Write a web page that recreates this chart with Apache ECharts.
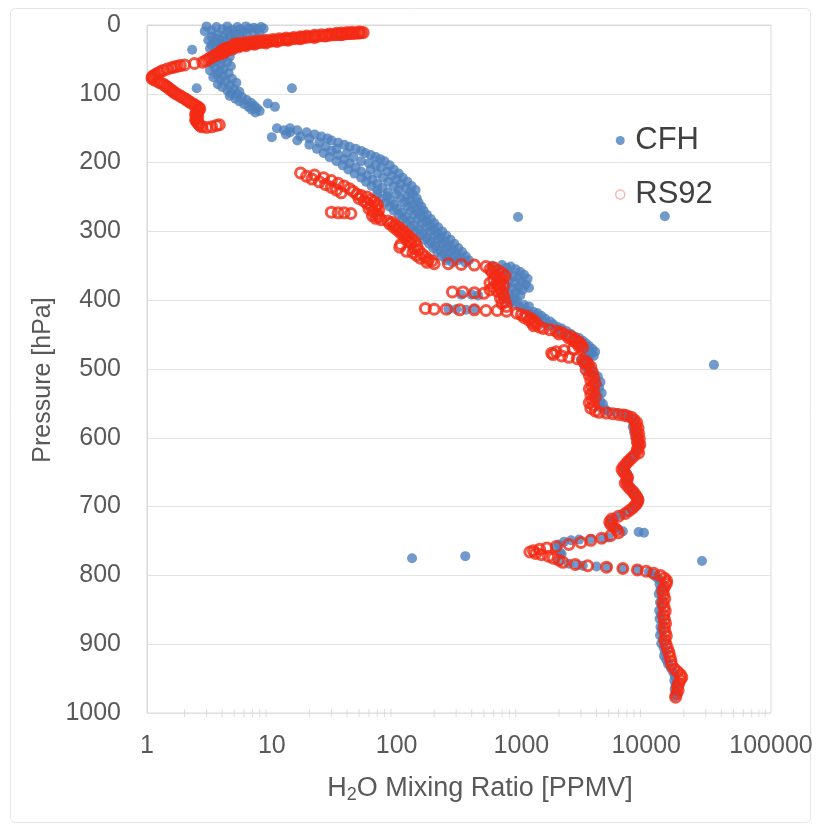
<!DOCTYPE html>
<html>
<head>
<meta charset="utf-8">
<title>CFH vs RS92 water vapour profile</title>
<script src="https://cdn.jsdelivr.net/npm/echarts@6/dist/echarts.min.js"></script>
<style>
  html, body { margin: 0; padding: 0; background: #ffffff; }
  #chart { width: 821px; height: 829px; }
</style>
</head>
<body>
<div id="chart"></div>
<script>
// Axis ticks
const pressureTicks = [0, 100, 200, 300, 400, 500, 600, 700, 800, 900, 1000];
const mixingTicks = [1, 10, 100, 1000, 10000, 100000];
// Minor tick positions along the log axis (2..9 of each decade)
const minorTickValues = [
  2, 3, 4, 5, 6, 7, 8, 9,
  20, 30, 40, 50, 60, 70, 80, 90,
  200, 300, 400, 500, 600, 700, 800, 900,
  2000, 3000, 4000, 5000, 6000, 7000, 8000, 9000,
  20000, 30000, 40000, 50000, 60000, 70000, 80000, 90000
];

const seriesNames = ['CFH', 'RS92'];

// CFH frost-point hygrometer: [pressure hPa, H2O mixing ratio ppmv]
const cfhPoints = [
  [2,3.0],[3,3.6],[2,4.4],[3,5.3],[2,6.2],[4,7.2],[3,8.2],[5,8.6],[6,7.6],[5,6.6],[6,5.6],[7,4.8],[6,4.0],[8,3.3],[9,2.9],
  [9,4.4],[10,5.9],[11,7.1],[12,8.0],[13,6.3],[12,5.0],[14,3.7],[15,4.6],[16,5.5],[17,3.3],[18,4.1],[19,5.2],[20,3.6],
  [21,4.5],[22,3.1],[23,4.0],[24,5.0],[25,3.5],[26,4.3],[27,3.8],[28,4.7],[29,3.3],[30,4.1],[31,3.6],[33,4.4],[34,3.2],
  [36,2.3],[36,3.9],[38,4.8],[40,3.5],[42,4.2],[44,3.7],[46,4.6],[48,3.4],[50,4.0],[52,3.6],[54,4.4],[56,3.3],[58,3.9],
  [60,4.7],[62,3.5],[64,4.1],[66,3.2],[68,3.8],[70,4.5],[72,3.6],[74,4.1],[76,3.4],[78,4.8],[80,3.9],[82,4.3],[84,5.2],
  [86,3.7],[88,4.6],[90,4.0],[92,2.5],[92,14.5],[93,5.0],[95,4.4],[97,5.5],[99,4.7],[101,5.3],[103,4.6],[105,5.8],
  [107,5.1],[109,6.3],[111,5.5],[113,6.8],[114,9.3],[115,6.0],[117,7.2],[119,6.5],[119,10.6],[121,7.6],[123,6.9],
  [125,8.0],[127,7.4],
  [150,11],[150,14],[153,16],[153,12.5],[156,19],[156,14],[159,13],[159,22],[162,17],[162,25],[163,10],[165,20],[165,28],
  [168,16],[168,30],[171,24],[171,34],[174,20],[174,38],[177,27],[177,42],[180,23],[180,33],[180,47],[183,30],[183,52],
  [186,26],[186,40],[186,56],[189,34],[189,62],[192,29],[192,45],[192,68],[195,38],[195,74],[198,33],[198,52],[198,80],
  [201,42],[201,60],[204,37],[204,68],[204,88],[207,47],[207,75],[210,41],[210,62],[210,95],[213,52],[213,84],
  [216,46],[216,70],[216,104],[219,58],[219,92],[222,52],[222,78],[222,112],[225,64],[225,100],[228,57],[228,86],
  [228,122],[231,70],[231,108],[234,63],[234,95],[234,132],[237,77],[237,118],[240,70],[240,104],[240,142],[243,85],
  [243,128],
  [246,70],[246,100],[246,135],[249,84],[249,120],[252,76],[252,108],[252,145],[255,90],[255,128],[258,82],[258,115],
  [258,150],[261,96],[261,135],[264,88],[264,122],[264,158],[267,102],[267,142],[270,95],[270,130],[270,165],[273,110],
  [273,150],[276,104],[276,138],[276,175],[278,14100],[279,940],[279,118],[279,160],[282,112],[282,148],[282,188],
  [285,128],[285,172],[288,120],[288,160],[288,200],[291,138],[291,185],[294,130],[294,172],[294,215],[297,150],
  [297,198],[300,142],[300,185],[300,232],[303,162],[303,212],[306,155],[306,200],[306,250],[309,175],[309,228],
  [312,168],[312,215],[312,270],[315,190],[315,245],[318,182],[318,232],[318,290],[321,205],[321,265],[324,196],
  [324,250],[324,312],[327,222],[327,285],[330,212],[330,268],[330,335],[333,240],[333,305],[336,230],[336,288],
  [336,358],[339,258],[339,330],[342,250],[342,310],[342,380],[345,280],[345,355],
  [349,700],[350,580],[351,820],[353,760],[355,900],[356,620],[357,680],[359,980],[361,780],[362,600],[363,1050],
  [365,860],[367,940],[368,660],[369,1120],[371,800],[373,1000],[374,620],[375,880],[377,1080],[379,760],[381,950],
  [382,1150],[383,850],[385,1020],[387,720],[389,900],[391,800],[393,980],[395,700],[397,860],[399,760],[401,920],
  [403,820],
  [392,330],[392,400],[393,450],[413,260],[413,300],[414,360],[413,420],
  [405,900],[407,1050],[409,1150],[411,980],[415,1100],[417,1250],[419,1350],[421,1200],[423,1450],[425,1300],
  [427,1550],[429,1400],[431,1700],[433,1500],[435,1800],[437,1650],[439,1950],[441,2100],[443,1900],[445,2300],
  [447,2100],[449,2500],[451,2300],[453,2700],[455,2900],[457,2600],[459,3100],[461,2800],[463,3300],[465,3000],
  [467,3500],[469,3200],[471,3700],[473,3400],[475,3900],[477,3600],[479,3300],[481,3800],[483,3500],[485,3200],
  [487,3000],[489,3400],[491,3100],[493,3500],[494,34900],[497,3300],[499,3600],[501,3400],[503,3700],
  [507,3800],[511,4100],[515,3900],[519,4300],[523,4000],[527,4200],[531,3900],[535,4400],[539,4100],[543,3900],
  [547,4300],[551,4500],[555,4200],[559,4700],[562,5000],
  [564,5800],[566,6600],[568,7200],[572,7600],[576,7900],[580,8100],[584,7800],[588,8300],[592,8000],[596,8500],
  [600,8200],[604,8700],[608,8400],[612,8900],[616,8600],[620,8300],[624,8000],[628,7600],[632,7300],[636,7000],
  [640,6800],[644,6600],[648,6800],[652,7000],[656,7200],[660,7100],[664,7000],[668,7200],[672,7500],[676,7800],
  [680,8100],[684,8400],[688,8700],[692,8800],[696,8500],[700,8100],[704,7600],[708,7000],[712,6300],[716,5600],
  [720,5200],[724,5100],[728,5400],[732,5900],[736,6500],[737,8700],[738,9600],
  [745,5000],[746,4500],[747,3600],[748,2900],[749,2500],[751,2200],[755,2000],[760,1900],[767,2040],[769,2100],
  [772,355],[775,133],[779,28000],[779,2000],[783,2400],[785,2800],[786,3100],[787,4000],[788,4900],[790,6500],
  [792,8500],[795,10500],[798,11500],[802,12000],
  [805,12500],[809,13200],[813,12800],[817,13600],[821,13000],[827,12600],[833,13400],[839,12900],[845,13300],
  [851,12700],[857,13100],[863,12800],[869,13500],[875,13000],[881,13300],[887,12900],[893,13600],[899,13200],
  [905,13800],[911,14200],[917,13900],[923,14500],[929,15000],[935,15800],[941,16500],[947,17000],[953,16800],
  [959,17200],[965,16900],[971,17300],[976,17000]
];

// Vaisala RS92 radiosonde: [pressure hPa, H2O mixing ratio ppmv]
const rs92Points = [
  [11,54],[11.2,52],[11.5,50],[11.7,48],[12,46],[12.2,44],[12.5,42],[12.7,40],[13,38],[13.2,36.5],[13.5,35],
  [13.7,33.5],[14,32],[14.5,30],[15,28],[15.5,26],[16,24],[16.5,22.5],[17,21],[17.5,19.7],[18,18.5],[18.5,17.5],
  [19,16.5],[19.5,15.5],[20,14.5],[20.5,13.7],[21,13],[21.5,12.2],[22,11.5],[22.5,10.8],[23,10.2],[23.5,9.7],
  [24,9.2],[24.5,8.7],[25,8.3],[25.5,7.9],[26,7.5],[26.5,7.1],[27,6.8],[27.5,6.5],[28,6.2],[28.5,5.9],[29,5.7],
  [29.5,5.5],[30,5.3],[31,5.0],[32,4.7],[33,4.5],[34,4.3],[35,4.2],[36,4.1],[37,4.0],[38,4.0],[39,3.9],[40,3.9],
  [10,50],[10.5,44],[11,40],[11.5,36],[12,33],[13,29],[14,25],[15,22],[16,19],[17,17],[18,15],[19,13],[20,11.5],
  [21,10.2],[22,9],[23,8],[24,7.2],[25,6.5],[26,5.9],[27,5.4],[28,5.0],
  [14,36],[16,27],[18,22],[20,17],[22,13.5],[24,11],[26,9],[28,7.3],[30,6.2],[32,5.4],[34,4.9],[36,4.5],[38,4.3],
  [40,4.1],[42,3.9],
  [42,3.7],[44,3.5],[46,3.4],[48,3.2],[50,3.1],[52,2.95],[54,2.8],[56,2.4],[58,2.0],[59,1.85],[60,1.75],[61,1.65],
  [62,1.58],[64,1.45],[66,1.35],[68,1.28],[70,1.22],[72,1.17],[74,1.12],[76,1.1],[78,1.1],[80,1.15],[82,1.22],
  [84,1.28],[86,1.35],[88,1.4],[90,1.45],[92,1.5],[94,1.55],[96,1.6],[98,1.65],[100,1.72],[102,1.8],[104,1.88],
  [106,1.96],[108,2.05],[110,2.12],[112,2.2],[114,2.3],[116,2.4],[118,2.5],[120,2.6],[122,2.65],[124,2.6],
  [126,2.55],[128,2.5],[130,2.45],[132,2.5],[134,2.55],[136,2.5],[138,2.45],[140,2.5],[142,2.55],[144,2.6],
  [146,2.65],[148,2.75],[149,3.0],[148,3.3],[146,3.6],[145,3.8],
  [215,17],[218,22],[220,19],[222,26],[224,21],[226,30],[228,24],[230,34],[232,27],[234,38],[236,30],[238,42],
  [240,33],[242,45],[244,36],[246,48],[248,52],[250,58],[252,50],[254,62],[256,55],[257,66],[259,58],[261,70],
  [263,62],[265,68],[267,60],[269,72],[271,65],[272,30],[273,34],[273,38],[274,43],[275,70],[277,64],[279,72],
  [281,68],[283,75],[285,85],[287,92],[289,88],[291,98],[293,94],[295,105],[297,100],[299,112],[301,106],[303,118],
  [305,112],[307,125],[309,118],[311,132],[313,124],[315,140],[317,130],[319,108],[321,145],[323,106],[325,138],
  [327,150],[329,120],[331,135],[333,160],[335,145],[337,170],[339,155],[341,180],[343,192],[345,175],[347,200],
  [347,260],[348,330],[349,420],[351,520],[353,600],[355,560],[357,650],[359,580],[361,700],[363,620],[365,740],
  [367,660],[369,700],[371,600],[373,680],[375,560],[377,640],[379,720],[381,600],[383,680],[385,560],[387,640],
  [389,700],[388,280],[388,340],[389,420],[390,500],[393,720],[397,680],[401,740],[405,700],[409,760],
  [412,170],[413,200],[413,250],[414,320],[414,420],[415,520],[415,640],[416,760],
  [419,920],[421,1000],[423,1100],[425,1050],[427,1200],[429,1150],[431,1280],[433,1220],[435,1330],[437,1250],
  [439,1400],[441,1500],
  [443,1700],[445,1900],[447,2100],[449,2000],[451,2300],[453,2500],[455,2400],[457,2700],[459,2600],[461,2900],
  [463,2800],[465,3000],[467,2900],[469,3100],
  [471,2600],[473,2200],[475,1900],[477,1750],[479,1800],[481,2100],[483,2400],[485,2800],[487,3100],[489,3300],
  [491,3200],
  [493,3400],[497,3600],[501,3300],[505,3700],[509,3500],[513,3800],[517,3600],[521,3900],[525,3700],[529,3500],
  [533,3800],[537,3600],[541,3900],[545,3700],[549,3500],[553,3800],[557,3600],[561,3900],[563,4200],[564,4800],
  [565,5400],[566,6000],[567,6600],[568,7000],
  [570,7600],[574,8000],[578,8400],[582,8200],[586,8600],[590,8300],[594,8700],[598,8400],[602,8800],[606,8500],
  [610,8900],[614,8600],[618,8500],[622,8700],[626,8000],[630,7600],[634,7200],[638,6900],[642,6600],[646,6400],
  [650,6600],[654,6900],[658,7100],[662,7000],[666,6800],[670,7100],[674,7400],[678,7800],[682,8100],[686,8400],
  [690,8600],[694,8500],[698,8200],[702,7800],[706,7300],[710,6800],[714,6000],[718,5300],[722,5100],[726,5200],
  [730,5500],[734,5800],[738,6000],[742,5200],[746,4400],[749,3600],[752,3000],[755,2400],[758,1900],[760,1600],
  [762,1400],[764,1250],[766,1170],[768,1300],[770,1450],[772,1650],[775,1800],[778,2000],[781,2150],[784,2700],
  [786,3400],[788,4800],[790,6500],[792,8500],[794,10000],[797,11500],[800,13000],[804,14000],[808,14600],
  [812,14500],[817,14000],[822,13600],[828,13800],[834,14100],[840,13600],[846,13900],[852,14200],[858,13800],
  [864,14000],[870,14300],[876,13900],[882,14200],[888,14500],[894,14100],[900,14400],[906,14800],[912,15200],
  [918,15500],[924,15800],[930,16000],[936,16800],[940,17800],[944,18800],[948,19300],[952,18800],[957,18200],
  [962,17800],[967,18000],[972,17500],[977,17200]
];

const FONT = '"Liberation Sans", Arial, Helvetica, sans-serif';
const chart = echarts.init(document.getElementById('chart'), null, { renderer: 'canvas' });

const toXY = (pts) => pts.map(([p, q]) => [q, p]);

chart.setOption({
  animation: false,
  backgroundColor: '#ffffff',
  textStyle: { fontFamily: FONT },
  grid: {
    left: 147, top: 25, width: 624, height: 688,
    show: true, borderColor: '#d9d9d9', borderWidth: 1, backgroundColor: 'transparent'
  },
  xAxis: {
    type: 'log', logBase: 10,
    min: mixingTicks[0], max: mixingTicks[mixingTicks.length - 1],
    axisLine: { show: true, lineStyle: { color: '#d9d9d9', width: 1 } },
    axisTick: { show: false },
    splitLine: { show: false },
    axisLabel: {
      fontSize: 25, color: '#595959', margin: 21, fontFamily: FONT,
      formatter: (v) => String(Math.round(v))
    }
  },
  yAxis: {
    type: 'value', inverse: true,
    min: pressureTicks[0], max: pressureTicks[pressureTicks.length - 1], interval: 100,
    axisLine: { show: true, lineStyle: { color: '#d9d9d9', width: 1 } },
    axisTick: { show: false },
    splitLine: { show: true, lineStyle: { color: '#e2e2e2', width: 1 } },
    axisLabel: {
      fontSize: 25, color: '#595959', margin: 26, fontFamily: FONT,
      formatter: (v) => String(Math.round(v))
    }
  },
  legend: {
    data: [
      { name: seriesNames[0], icon: 'circle', itemStyle: { color: '#4f81bd' } },
      { name: seriesNames[1], icon: 'circle', itemStyle: { color: 'rgba(255,255,255,0)', borderColor: '#f4a3a0', borderWidth: 1.5 } }
    ],
    orient: 'vertical',
    left: 610, top: 120,
    itemWidth: 20, itemHeight: 9, itemGap: 23,
    textStyle: { fontSize: 31, color: '#404040', fontFamily: FONT },
    selectedMode: false
  },
  graphic: [
    {
      type: 'rect', silent: true, z: -1,
      shape: { x: 10.5, y: 8.5, width: 800, height: 814, r: 5 },
      style: { fill: 'none', stroke: '#e6e6e6', lineWidth: 1 }
    },
    {
      type: 'text', silent: true,
      x: 43, y: 380, rotation: Math.PI / 2,
      style: {
        text: 'Pressure [hPa]', fontSize: 25, fontFamily: FONT, fill: '#595959',
        align: 'center', verticalAlign: 'middle'
      }
    },
    {
      type: 'text', silent: true,
      x: 480, y: 789,
      style: {
        text: '{a|H}{s|2}{a|O Mixing Ratio [PPMV]}',
        align: 'center', verticalAlign: 'middle', fill: '#595959',
        rich: {
          a: { fontSize: 27, fontFamily: FONT, fill: '#595959', lineHeight: 30 },
          s: { fontSize: 18, fontFamily: FONT, fill: '#595959', lineHeight: 14, verticalAlign: 'bottom' }
        }
      }
    }
  ],
  series: [
    {
      name: 'minor-ticks',
      type: 'scatter',
      silent: true,
      symbol: 'rect',
      symbolSize: [1, 8],
      itemStyle: { color: '#d4d4d4' },
      data: minorTickValues.map((v) => [v, pressureTicks[pressureTicks.length - 1]]),
      z: 1
    },
    {
      name: seriesNames[0],
      type: 'scatter',
      symbol: 'circle',
      symbolSize: 10,
      itemStyle: { color: '#4f81bd' },
      data: toXY(cfhPoints),
      z: 2
    },
    {
      name: seriesNames[1],
      type: 'scatter',
      symbol: 'circle',
      symbolSize: 10,
      itemStyle: { color: 'rgba(255,255,255,0)', borderColor: '#f42a14', borderWidth: 3 },
      data: toXY(rs92Points),
      z: 3
    }
  ]
});
</script>
</body>
</html>
